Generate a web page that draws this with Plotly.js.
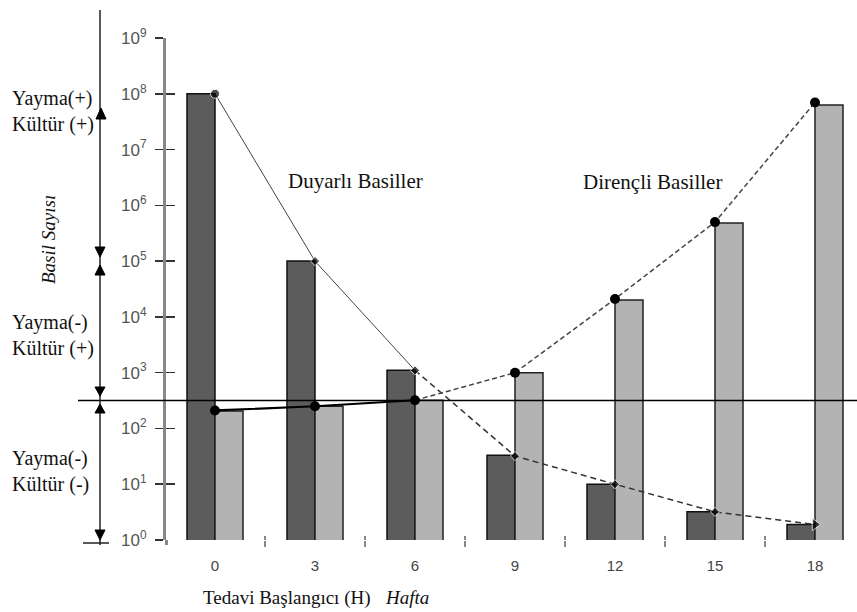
<!DOCTYPE html>
<html>
<head>
<meta charset="utf-8">
<script src="https://cdn.plot.ly/plotly-3.0.1.min.js"></script>
<style>html,body{margin:0;padding:0;background:#fff;}#chart{width:857px;height:612px;}</style>
</head>
<body>
<div id="chart"></div>
<script>
// ---- data ----
var weeks = ["0", "3", "6", "9", "12", "15", "18"];
var weekIndex = [0, 1, 2, 3, 4, 5, 6];
var duyarliBars = [1e8, 1e5, 1.1e3, 33, 10, 3.2, 1.9];
var direncliBars = [205, 250, 320, 1e3, 2e4, 4.8e5, 6.3e7];
var duyarliPoints = [1e8, 1e5, 1.1e3, 32, 10, 3.2, 1.9];
var direncliPoints = [210, 250, 320, 1e3, 2.1e4, 5e5, 7e7];
var yTickVals = [1, 10, 100, 1e3, 1e4, 1e5, 1e6, 1e7, 1e8, 1e9];
var yTickText = ["10<sup>0</sup>", "10<sup>1</sup>", "10<sup>2</sup>", "10<sup>3</sup>", "10<sup>4</sup>",
                 "10<sup>5</sup>", "10<sup>6</sup>", "10<sup>7</sup>", "10<sup>8</sup>", "10<sup>9</sup>"];
var boundaryTicks = [0.5, 1.5, 2.5, 3.5, 4.5, 5.5];
var thresholdLog = 2.5;

// ---- geometry helpers (figure pixels -> paper) ----
var W = 857, H = 612;
var ML = 166, MR = 0, MT = 38, MB = 72;
var PW = W - ML - MR, PH = H - MT - MB;
var Y_RANGE = [0, 9];
var X_RANGE = [-0.49, 6.42];
function px2x(px) { return (px - ML) / PW; }
function px2y(py) { return (H - MB - py) / PH; }
function tri(cx, tipY, baseY, half) {
  return 'M ' + px2x(cx) + ' ' + px2y(tipY) + ' L ' + px2x(cx - half) + ' ' + px2y(baseY) +
         ' L ' + px2x(cx + half) + ' ' + px2y(baseY) + ' Z';
}

var serif = 'Liberation Serif';
var sans = 'Liberation Sans';

var traces = [
  {type: 'bar', x: weekIndex, y: duyarliBars, name: 'Duyarlı',
   marker: {color: '#5c5c5c', line: {color: '#111', width: 1.5}}, hoverinfo: 'y'},
  {type: 'bar', x: weekIndex, y: direncliBars, name: 'Dirençli',
   marker: {color: '#b3b3b3', line: {color: '#222', width: 1.5}}, hoverinfo: 'y'},
  // Duyarlı line: solid thin part, then dashed part
  {type: 'scatter', mode: 'lines', x: weekIndex.slice(0, 3), y: duyarliPoints.slice(0, 3),
   line: {color: '#444', width: 1}, hoverinfo: 'skip'},
  {type: 'scatter', mode: 'lines', x: weekIndex.slice(2), y: duyarliPoints.slice(2),
   line: {color: '#333', width: 1.5, dash: '6px,4px'}, hoverinfo: 'skip'},
  {type: 'scatter', mode: 'markers', x: weekIndex, y: duyarliPoints,
   marker: {color: '#000', size: [9, 7, 7, 7, 7, 7, 11],
            symbol: ['circle', 'diamond', 'diamond', 'diamond', 'diamond', 'diamond', 'triangle-right']},
   hoverinfo: 'y'},
  // Dirençli line
  {type: 'scatter', mode: 'lines', x: weekIndex.slice(0, 3), y: direncliPoints.slice(0, 3),
   line: {color: '#000', width: 2.2}, hoverinfo: 'skip'},
  {type: 'scatter', mode: 'lines', x: weekIndex.slice(2), y: direncliPoints.slice(2),
   line: {color: '#444', width: 1.5, dash: '5px,3px'}, hoverinfo: 'skip'},
  {type: 'scatter', mode: 'markers', x: weekIndex, y: direncliPoints,
   marker: {color: '#000', size: 10, symbol: 'circle'}, hoverinfo: 'y'},
  // helper traces so the overlay axes are drawn
  {type: 'scatter', mode: 'markers', x: [0], y: [1], xaxis: 'x2', yaxis: 'y2',
   marker: {opacity: 0}, hoverinfo: 'skip'},
  {type: 'scatter', mode: 'markers', x: [0], y: [1], xaxis: 'x3', yaxis: 'y',
   marker: {opacity: 0}, hoverinfo: 'skip'}
];

var thrY = (thresholdLog - Y_RANGE[0]) / (Y_RANGE[1] - Y_RANGE[0]);
var shapes = [
  // threshold line
  {type: 'line', xref: 'paper', yref: 'paper', x0: px2x(78), x1: 1, y0: thrY, y1: thrY,
   line: {color: '#000', width: 1.5}},
  // short extension of the y axis line below 10^0
  {type: 'line', xref: 'paper', yref: 'paper', x0: px2x(166.5), x1: px2x(166.5), y0: 0, y1: px2y(545),
   line: {color: '#888', width: 3}},
  // left arrow axis
  {type: 'line', xref: 'paper', yref: 'paper', x0: px2x(100), x1: px2x(100), y0: px2y(10), y1: px2y(545),
   line: {color: '#222', width: 1.5}},
  {type: 'line', xref: 'paper', yref: 'paper', x0: px2x(83), x1: px2x(109), y0: px2y(543), y1: px2y(543),
   line: {color: '#222', width: 1.5}}
];
var tris = [[101, 108, 119], [100, 257, 247], [100, 265, 275], [100, 396, 387], [100, 404, 413], [100, 540, 530]];
tris.forEach(function (t) {
  shapes.push({type: 'path', xref: 'paper', yref: 'paper', path: tri(t[0], t[1], t[2], 5),
               fillcolor: '#000', line: {color: '#000', width: 1}});
});

function ann(text, px, py, opts) {
  var a = {text: text, xref: 'paper', yref: 'paper', x: px2x(px), y: px2y(py), showarrow: false,
           xanchor: 'center', yanchor: 'middle', font: {family: serif, size: 20, color: '#111'}};
  for (var k in opts) a[k] = opts[k];
  return a;
}

var annotations = [
  ann('Yayma(+)<br>Kültür (+)', 10, 112, {xanchor: 'left', align: 'left'}),
  ann('Yayma(-)<br>Kültür (+)', 10, 336, {xanchor: 'left', align: 'left'}),
  ann('Yayma(-)<br>Kültür (-)', 10, 471, {xanchor: 'left', align: 'left'}),
  ann('<i>Basil Sayısı</i>', 48, 240, {textangle: -90, font: {family: serif, size: 19, color: '#111'}}),
  ann('Duyarlı Basiller', 355, 181, {font: {family: serif, size: 21, color: '#111'}}),
  ann('Dirençli Basiller', 652, 182, {font: {family: serif, size: 21, color: '#111'}}),
  ann('Tedavi Başlangıcı (H)', 287, 598, {font: {family: serif, size: 19, color: '#111'}}),
  ann('<i>Hafta</i>', 407, 597, {font: {family: serif, size: 19, color: '#111'}})
];

var layout = {
  width: W, height: H,
  margin: {l: ML, r: MR, t: MT, b: MB, pad: 0},
  paper_bgcolor: '#fff', plot_bgcolor: '#fff',
  showlegend: false,
  barmode: 'group', bargap: 0.44, bargroupgap: 0,
  xaxis: {range: X_RANGE, tickvals: weekIndex, ticktext: weeks, ticks: '',
          showline: false, showgrid: false, zeroline: false, ticklabelstandoff: 15,
          tickfont: {family: sans, size: 15, color: '#444'}},
  xaxis2: {overlaying: 'x', range: X_RANGE, tickvals: boundaryTicks, ticks: 'inside', ticklen: 4,
           tickwidth: 1.5, tickcolor: '#888', showticklabels: false, showline: false, showgrid: false,
           zeroline: false, side: 'bottom'},
  xaxis3: {overlaying: 'x', range: X_RANGE, tickvals: boundaryTicks, ticks: 'outside', ticklen: 6,
           tickwidth: 1.5, tickcolor: '#888', showticklabels: false, showline: false, showgrid: false,
           zeroline: false, side: 'bottom'},
  yaxis: {type: 'log', range: Y_RANGE, tickvals: yTickVals, ticktext: yTickText, ticks: 'outside',
          ticklen: 8, tickwidth: 1.5, tickcolor: '#333', showline: true, linecolor: '#888', linewidth: 3,
          showgrid: false, zeroline: false, ticklabelstandoff: 5,
          tickfont: {family: sans, size: 17, color: '#555'}},
  yaxis2: {overlaying: 'y', type: 'log', range: Y_RANGE, tickvals: yTickVals.slice(1), ticks: 'inside', ticklen: 9,
           tickwidth: 1.5, tickcolor: '#333', showticklabels: false, showline: false, showgrid: false,
           zeroline: false},
  shapes: shapes,
  annotations: annotations
};

Plotly.newPlot('chart', traces, layout, {displayModeBar: false, staticPlot: true});
</script>
</body>
</html>
